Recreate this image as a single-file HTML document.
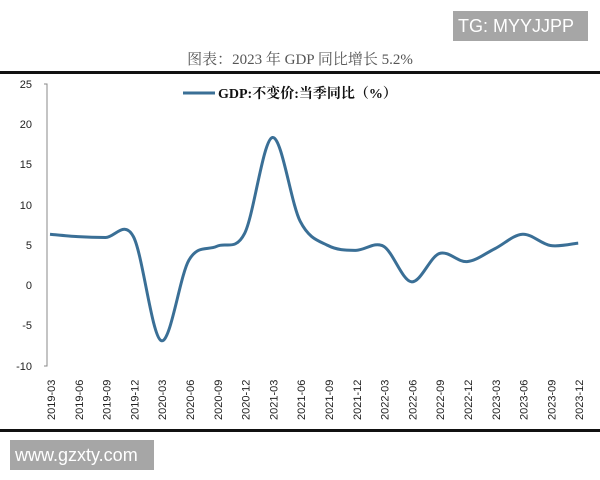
<!DOCTYPE html>
<html><head><meta charset="utf-8"><style>
body{margin:0;background:#fff;width:600px;height:480px;position:relative;overflow:hidden;font-family:"Liberation Sans","Noto Sans CJK SC",sans-serif}
.tg{position:absolute;left:453px;top:11px;width:135px;height:30px;background:#a6a6a6;color:#fff;font-size:18px;line-height:30px;padding-left:5px;box-sizing:border-box}
.www{position:absolute;left:10px;top:440px;width:144px;height:30px;background:#a6a6a6;color:#fff;font-size:18px;line-height:30px;padding-left:5px;box-sizing:border-box}
</style></head><body>
<div class="tg">TG: MYYJJPP</div>
<svg width="600" height="480" style="position:absolute;left:0;top:0">
<text x="300" y="64" text-anchor="middle" font-family="'Liberation Serif','Noto Serif CJK SC',serif" font-size="15" fill="#555">图表：2023 年 GDP 同比增长 5.2%</text>
<rect x="0" y="71" width="600" height="3" fill="#111"/>
<rect x="0" y="429" width="600" height="3" fill="#111"/>
<g font-size="11" fill="#222" text-anchor="end">
<text x="32" y="88">25</text><text x="32" y="128">20</text><text x="32" y="168">15</text><text x="32" y="209">10</text><text x="32" y="249">5</text><text x="32" y="289">0</text><text x="32" y="329">-5</text><text x="32" y="370">-10</text>
</g>
<path d="M44 84H47V366H44" fill="none" stroke="#888" stroke-width="1"/>
<line x1="183" y1="93" x2="215" y2="93" stroke="#3a6f96" stroke-width="3"/>
<text x="218" y="98" font-family="'Liberation Serif','Noto Serif CJK SC',serif" font-weight="bold" font-size="14" fill="#111">GDP:不变价:当季同比（%）</text>
<g font-size="11" fill="#222" id="xl"></g>
<path id="ln" fill="none" stroke="#3a6f96" stroke-width="3"/>
</svg>
<div class="www">www.gzxty.com</div>
<script>
var d=[6.3,6.0,5.9,6.0,-6.9,3.1,4.8,6.4,18.3,7.9,4.9,4.3,4.8,0.4,3.9,2.9,4.5,6.3,4.9,5.2];
var labs=["2019-03","2019-06","2019-09","2019-12","2020-03","2020-06","2020-09","2020-12","2021-03","2021-06","2021-09","2021-12","2022-03","2022-06","2022-09","2022-12","2023-03","2023-06","2023-09","2023-12"];
var x0=50,dx=27.8,y0=285,k=8.06;
var p=d.map((v,i)=>[x0+i*dx,y0-v*k]);
var s="M"+p[0][0]+" "+p[0][1];
for(var i=0;i<p.length-1;i++){var a=p[i-1]||p[i],b=p[i],c=p[i+1],e=p[i+2]||c;
s+="C"+(b[0]+(c[0]-a[0])/6)+" "+(b[1]+(c[1]-a[1])/6)+" "+(c[0]-(e[0]-b[0])/6)+" "+(c[1]-(e[1]-b[1])/6)+" "+c[0]+" "+c[1];}
document.getElementById("ln").setAttribute("d",s);
var g=document.getElementById("xl"),h="";
labs.forEach((l,i)=>{var x=x0+i*dx+1;h+='<text transform="translate('+(x+4)+',420) rotate(-90)">'+l+'</text>';});
g.innerHTML=h;
</script>
</body></html>
